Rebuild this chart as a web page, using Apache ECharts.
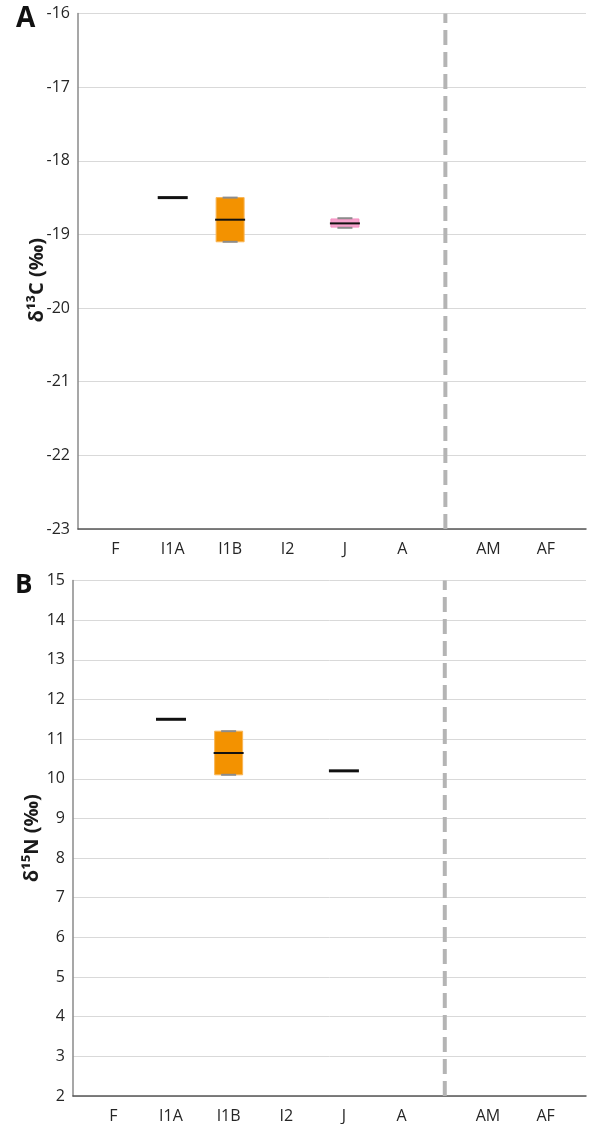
<!DOCTYPE html>
<html>
<head>
<meta charset="utf-8">
<script src="https://cdn.jsdelivr.net/npm/echarts@6/dist/echarts.min.js"></script>
<style>
  html, body { margin: 0; padding: 0; background: #fff; }
  #chart { width: 589px; height: 1124px; }
</style>
</head>
<body>
<div id="chart"></div>
<script>
// Age classes along the x axis
const categories = ['F', 'I1A', 'I1B', 'I2', 'J', 'A', 'AM', 'AF'];
// Axis slot for each class; adult males/females sit to the right of the divider
const slots = [1, 2, 3, 4, 5, 6, 7.5, 8.5];
const dividerSlot = 6.75;

// Tick labels
const carbonTicks = [-23, -22, -21, -20, -19, -18, -17, -16];
const nitrogenTicks = [2, 3, 4, 5, 6, 7, 8, 9, 10, 11, 12, 13, 14, 15];

// Box summaries: [min, Q1, median, Q3, max]  (‰)
const d13C_I1A = [-18.5, -18.5, -18.5, -18.5, -18.5];
const d13C_I1B = [-19.1, -19.1, -18.8, -18.5, -18.5];
const d13C_J   = [-18.91, -18.9, -18.85, -18.79, -18.78];

const d15N_I1A = [11.5, 11.5, 11.5, 11.5, 11.5];
const d15N_I1B = [10.1, 10.1, 10.65, 11.2, 11.2];
const d15N_J   = [10.2, 10.2, 10.2, 10.2, 10.2];

const boxFill = { I1A: '#000000', I1B: '#f39200', J: '#f7a3cd' };
const boxEdge = { I1A: '#000000', I1B: '#f8b555', J: '#f48fc0' };

function rows(entries) {
  return entries.map(([name, v]) => [slots[categories.indexOf(name)], ...v, name]);
}

const FONT = 'Open Sans';
const BOX_W = 28;
const CAP_W = 15;

function renderBox(params, api) {
  const x = api.value(0);
  const lo = api.value(1), q1 = api.value(2), med = api.value(3), q3 = api.value(4), hi = api.value(5);
  const name = categories[slots.indexOf(x)];
  const pLo = api.coord([x, lo]);
  const pQ1 = api.coord([x, q1]);
  const pMed = api.coord([x, med]);
  const pQ3 = api.coord([x, q3]);
  const pHi = api.coord([x, hi]);
  const cx = pMed[0];
  const kids = [];
  const flat = q1 === q3;
  if (!flat) {
    kids.push({
      type: 'rect',
      shape: { x: cx - BOX_W / 2, y: pQ3[1], width: BOX_W, height: pQ1[1] - pQ3[1] },
      style: { fill: boxFill[name], stroke: boxEdge[name], lineWidth: 1 }
    });
    if (hi > q3) kids.push({ type: 'line', shape: { x1: cx, y1: pQ3[1], x2: cx, y2: pHi[1] }, style: { stroke: '#8c8c8c', lineWidth: 1.5 } });
    if (lo < q1) kids.push({ type: 'line', shape: { x1: cx, y1: pQ1[1], x2: cx, y2: pLo[1] }, style: { stroke: '#8c8c8c', lineWidth: 1.5 } });
    kids.push({ type: 'line', shape: { x1: cx - CAP_W / 2, y1: pHi[1], x2: cx + CAP_W / 2, y2: pHi[1] }, style: { stroke: '#8c8c8c', lineWidth: 2 } });
    kids.push({ type: 'line', shape: { x1: cx - CAP_W / 2, y1: pLo[1], x2: cx + CAP_W / 2, y2: pLo[1] }, style: { stroke: '#8c8c8c', lineWidth: 2 } });
  }
  kids.push({
    type: 'line',
    shape: { x1: cx - BOX_W / 2 - 1, y1: pMed[1], x2: cx + BOX_W / 2 + 1, y2: pMed[1] },
    style: { stroke: '#111', lineWidth: flat ? 3 : 2 }
  });
  return { type: 'group', children: kids };
}

function xAxisFor(gridIndex, min) {
  return {
    type: 'value', gridIndex, min, max: 9.2,
    axisLine: { show: true, onZero: false, lineStyle: { color: '#555', width: 1.5 } },
    axisTick: { show: false },
    splitLine: { show: false },
    axisLabel: {
      customValues: slots,
      formatter: v => categories[slots.indexOf(v)] || '',
      color: '#262626', fontFamily: FONT, fontSize: 16, margin: 12
    }
  };
}

function yAxisFor(gridIndex, ticks, title, namePadding) {
  return {
    type: 'value', gridIndex,
    min: ticks[0], max: ticks[ticks.length - 1], interval: 1,
    name: title, nameLocation: 'middle', nameGap: 31, nameRotate: 90,
    nameMoveOverlap: false,
    nameTextStyle: { fontFamily: FONT, fontWeight: 'bold', fontSize: 20, color: '#1a1a1a', padding: namePadding },
    axisLine: { show: true, lineStyle: { color: '#8a8a8a', width: 1.5 } },
    axisTick: { show: false },
    splitLine: { show: true, lineStyle: { color: '#d9d9d9', width: 1 } },
    axisLabel: { color: '#262626', fontFamily: FONT, fontSize: 16, margin: 8 }
  };
}

function divider(axisIndex, ticks) {
  return {
    type: 'line', xAxisIndex: axisIndex, yAxisIndex: axisIndex,
    data: [[dividerSlot, ticks[0]], [dividerSlot, ticks[ticks.length - 1]]],
    symbol: 'none', silent: true, z: 1,
    lineStyle: { color: '#b4b4b4', width: 4, type: [15, 7] }
  };
}

const chart = echarts.init(document.getElementById('chart'), null, { renderer: 'canvas' });
chart.setOption({
  animation: false,
  backgroundColor: '#fff',
  grid: [
    { left: 78, right: 3, top: 13.5, height: 515.5 },
    { left: 73, right: 3, top: 580.5, height: 516 }
  ],
  xAxis: [xAxisFor(0, 0.35), xAxisFor(1, 0.3)],
  yAxis: [
    yAxisFor(0, carbonTicks, 'δ¹³C (‰)', [0, 18, 0, 0]),
    yAxisFor(1, nitrogenTicks, 'δ¹⁵N (‰)', 0)
  ],
  graphic: [
    { type: 'text', left: 16, top: 5, style: { text: 'A', fontFamily: FONT, fontWeight: 'bold', fontSize: 28, fill: '#111' } },
    { type: 'text', left: 15, top: 573, style: { text: 'B', fontFamily: FONT, fontWeight: 'bold', fontSize: 26, fill: '#111' } }
  ],
  series: [
    divider(0, carbonTicks),
    divider(1, nitrogenTicks),
    {
      type: 'custom', xAxisIndex: 0, yAxisIndex: 0, z: 3,
      renderItem: renderBox,
      encode: { x: 0, y: [1, 2, 3, 4, 5] },
      data: rows([['I1A', d13C_I1A], ['I1B', d13C_I1B], ['J', d13C_J]])
    },
    {
      type: 'custom', xAxisIndex: 1, yAxisIndex: 1, z: 3,
      renderItem: renderBox,
      encode: { x: 0, y: [1, 2, 3, 4, 5] },
      data: rows([['I1A', d15N_I1A], ['I1B', d15N_I1B], ['J', d15N_J]])
    }
  ]
});
</script>
</body>
</html>
